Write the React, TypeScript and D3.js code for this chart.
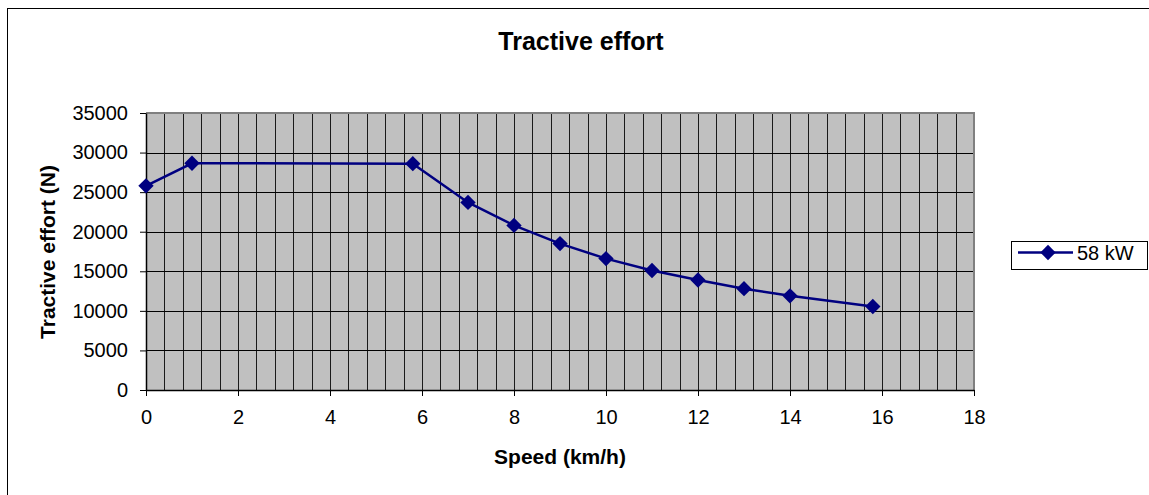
import React, { useRef, useEffect } from 'react';
import * as d3 from 'd3';

const speeds = [0, 1, 5.8, 7, 8, 9, 10, 11, 12, 13, 14, 15.8];
const effort = [25800, 28650, 28600, 23700, 20800, 18500, 16600, 15100, 13900, 12800, 11900, 10550];
const xTicks = [0, 2, 4, 6, 8, 10, 12, 14, 16, 18];
const yTicks = [0, 5000, 10000, 15000, 20000, 25000, 30000, 35000];
const seriesName = '58 kW';

const App = () => {
    const svgRef = useRef<SVGSVGElement>(null);

    useEffect(() => {
        const svg = d3.select(svgRef.current);
        svg.selectAll('*').remove();

        const width = 1149;
        const height = 495;
        const font = '"Liberation Sans", Arial, sans-serif';
        const navy = '#000080';

        const x = d3.scaleLinear().domain([0, 18]).range([146, 974]);
        const y = d3.scaleLinear().domain([0, 35000]).range([390, 113]);

        // chart frame
        svg.append('rect')
            .attr('x', 7.5).attr('y', 8.5)
            .attr('width', width).attr('height', height)
            .attr('fill', 'white').attr('stroke', 'black');

        svg.append('text')
            .attr('x', 581).attr('y', 50)
            .attr('text-anchor', 'middle')
            .attr('font-family', font).attr('font-weight', 'bold').attr('font-size', 25)
            .text('Tractive effort');

        // plot area
        svg.append('rect')
            .attr('x', x(0)).attr('y', y(35000))
            .attr('width', x(18) - x(0)).attr('height', y(0) - y(35000))
            .attr('fill', '#c0c0c0');

        const minor = d3.range(1, 45).map(i => i * 0.4);
        svg.append('g').selectAll('line')
            .data(minor).join('line')
            .attr('x1', d => Math.round(x(d)) + 0.5).attr('x2', d => Math.round(x(d)) + 0.5)
            .attr('y1', y(35000)).attr('y2', y(0))
            .attr('stroke', '#1a1a1a').attr('stroke-width', 1);

        svg.append('g').selectAll('line')
            .data(yTicks.slice(1, -1)).join('line')
            .attr('x1', x(0)).attr('x2', x(18))
            .attr('y1', d => Math.round(y(d)) + 0.5).attr('y2', d => Math.round(y(d)) + 0.5)
            .attr('stroke', 'black').attr('stroke-width', 1);

        // top & right border of plot area
        svg.append('path')
            .attr('d', `M${x(0)},${y(35000)}H${x(18)}V${y(0)}`)
            .attr('fill', 'none').attr('stroke', '#808080').attr('stroke-width', 2);

        // axes
        const xAxis = svg.append('g')
            .attr('transform', `translate(0,${y(0)})`)
            .call(d3.axisBottom(x).tickValues(xTicks).tickSize(6).tickPadding(14).tickSizeOuter(0));
        xAxis.select('.domain').attr('stroke-width', 1.5);
        xAxis.selectAll('text').attr('font-family', font).attr('font-size', 20).attr('fill', 'black');

        const yAxis = svg.append('g')
            .attr('transform', `translate(${x(0)},0)`)
            .call(d3.axisLeft(y).tickValues(yTicks).tickFormat(d3.format('d')).tickSize(6).tickPadding(12).tickSizeOuter(0));
        yAxis.select('.domain').attr('stroke-width', 1.5);
        yAxis.selectAll('text').attr('font-family', font).attr('font-size', 20).attr('fill', 'black');

        svg.append('text')
            .attr('x', 560).attr('y', 464)
            .attr('text-anchor', 'middle')
            .attr('font-family', font).attr('font-weight', 'bold').attr('font-size', 21)
            .text('Speed (km/h)');

        svg.append('text')
            .attr('transform', 'translate(55,252) rotate(-90)')
            .attr('text-anchor', 'middle')
            .attr('font-family', font).attr('font-weight', 'bold').attr('font-size', 21)
            .text('Tractive effort (N)');

        // series
        const pts = speeds.map((s, i) => [s, effort[i]] as [number, number]);
        const line = d3.line<[number, number]>()
            .x(d => x(d[0]))
            .y(d => y(d[1]));

        svg.append('path')
            .datum(pts)
            .attr('fill', 'none').attr('stroke', navy).attr('stroke-width', 2.5)
            .attr('d', line);

        const diamond = d3.symbol().type(d3.symbolDiamond2).size(150);
        svg.append('g').selectAll('path')
            .data(pts).join('path')
            .attr('transform', d => `translate(${x(d[0])},${y(d[1])})`)
            .attr('d', diamond)
            .attr('fill', navy);

        // legend
        const legend = svg.append('g').attr('transform', 'translate(1011,241)');
        legend.append('rect')
            .attr('x', 0.5).attr('y', 0.5)
            .attr('width', 136).attr('height', 28)
            .attr('fill', 'white').attr('stroke', 'black');
        legend.append('line')
            .attr('x1', 7).attr('x2', 62).attr('y1', 11.5).attr('y2', 11.5)
            .attr('stroke', navy).attr('stroke-width', 2.5);
        legend.append('path')
            .attr('transform', 'translate(37,11.5)')
            .attr('d', diamond)
            .attr('fill', navy);
        legend.append('text')
            .attr('x', 66).attr('y', 19)
            .attr('font-family', font).attr('font-size', 20)
            .text(seriesName);
    }, []);

    return (
        <svg ref={svgRef} width={1149} height={495}
            style={{ position: 'absolute', left: 0, top: 0, display: 'block' }} />
    );
};

export default App;
